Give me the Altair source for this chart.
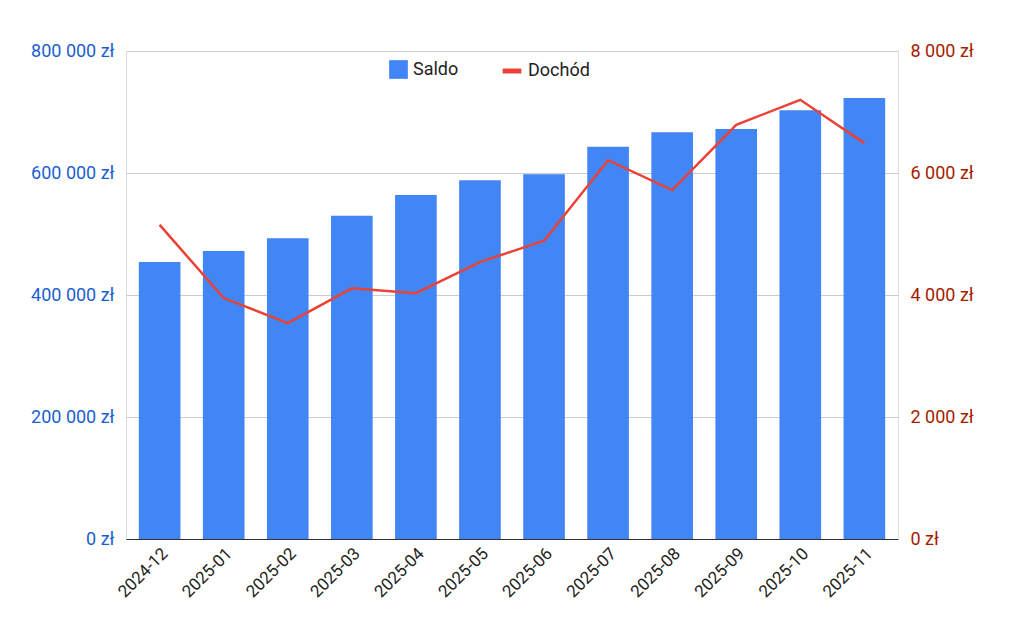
import altair as alt
import pandas as pd

months = ["2024-12","2025-01","2025-02","2025-03","2025-04","2025-05","2025-06","2025-07","2025-08","2025-09","2025-10","2025-11"]
saldo = [454000,472000,493000,530000,564000,588000,598000,643000,667000,672000,703000,723000]
dochod = [5150,3950,3540,4110,4030,4540,4890,6210,5720,6790,7200,6490]

df = pd.DataFrame({"m": months, "saldo": saldo, "dochod": dochod, "s": "Saldo", "d": "Dochód"})

fmt_expr = "replace(format(datum.value, ',.0f'), /,/g, ' ') + ' zł'"
x = alt.X("m:N", title=None, sort=months,
          scale=alt.Scale(paddingInner=0.35, paddingOuter=0.2),
          axis=alt.Axis(labelAngle=-45, labelFontSize=17, labelColor="#222", domainColor="#333",
                        ticks=False, grid=False, labelFont="Roboto", labelPadding=6))

bars = alt.Chart(df).mark_bar(color="#4285f4").encode(
    x=x,
    y=alt.Y("saldo:Q", title=None, scale=alt.Scale(domain=[0, 800000]),
            axis=alt.Axis(values=[0,200000,400000,600000,800000], labelExpr=fmt_expr,
                          labelColor="#1a5fd0", labelFontSize=18, labelFont="Roboto",
                          domain=False, ticks=False, gridColor="#cccccc", labelPadding=12)),
    color=alt.Color("s:N", scale=alt.Scale(domain=["Saldo"], range=["#4285f4"]),
                    legend=alt.Legend(title=None, orient="none", legendX=262, legendY=8,
                                      labelFontSize=18, labelFont="Roboto", symbolType="square",
                                      symbolSize=350, labelColor="#222")),
)

line = alt.Chart(df).mark_line(strokeWidth=2.5).encode(
    x=x,
    y=alt.Y("dochod:Q", title=None, scale=alt.Scale(domain=[0, 8000]),
            axis=alt.Axis(orient="right", values=[0,2000,4000,6000,8000], labelExpr=fmt_expr,
                          labelColor="#a61c00", labelFontSize=18, labelFont="Roboto",
                          domain=False, ticks=False, grid=False, labelPadding=12)),
    stroke=alt.Stroke("d:N", scale=alt.Scale(domain=["Dochód"], range=["#ea4335"]),
                      legend=alt.Legend(title=None, orient="none", legendX=374, legendY=8,
                                        labelFontSize=18, labelFont="Roboto", symbolStrokeWidth=5,
                                        symbolSize=350, labelColor="#222")),
)

chart = alt.layer(bars, line).resolve_scale(y="independent", color="independent").resolve_legend(
    color="independent", stroke="independent"
).properties(width=772, height=488,
             padding={"left": 22, "top": 34, "right": 5, "bottom": 5}
).configure_view(stroke=None, strokeWidth=0).configure(background="white")

chart.save("out.html", embed_options={"renderer": "svg", "actions": False})
